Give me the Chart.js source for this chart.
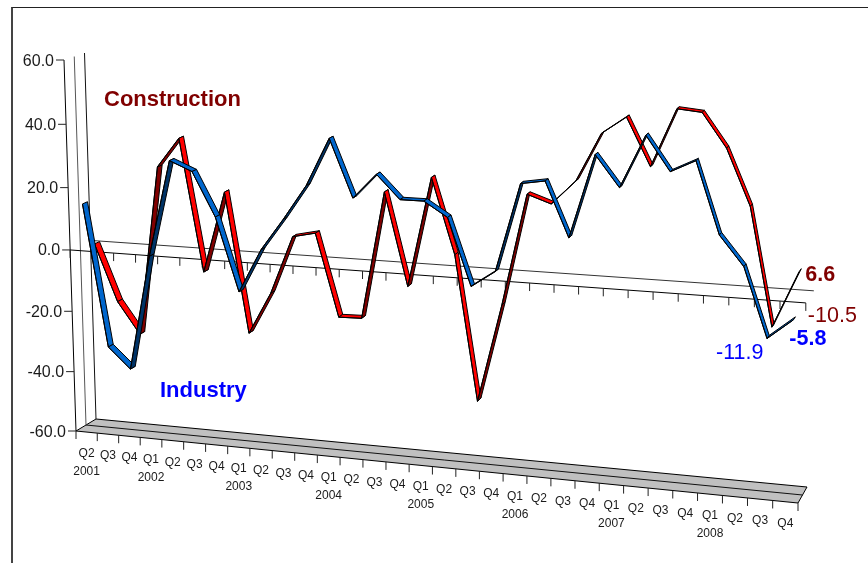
<!DOCTYPE html>
<html>
<head>
<meta charset="utf-8">
<title>Construction and Industry</title>
<script src="https://cdn.jsdelivr.net/npm/chart.js@4"></script>
<style>
    html, body { margin: 0; padding: 0; background: #fff; overflow: hidden; }
    #frame {
        position: absolute; left: 11px; top: 7px; width: 880px; height: 600px;
        border-left: 2px solid #444; border-top: 1px solid #222;
    }
    #chart { position: absolute; left: 0; top: 0; }
</style>
</head>
<body>
<div id="frame"></div>
<canvas id="chart" width="868" height="563"></canvas>

<script>
// Quarter labels, second line holds the year
const categories = [
    ['Q2', '2001'], ['Q3'], ['Q4'],
    ['Q1', '2002'], ['Q2'], ['Q3'], ['Q4'],
    ['Q1', '2003'], ['Q2'], ['Q3'], ['Q4'],
    ['Q1', '2004'], ['Q2'], ['Q3'], ['Q4'],
    ['Q1', '2005'], ['Q2'], ['Q3'], ['Q4'],
    ['Q1', '2006'], ['Q2'], ['Q3'], ['Q4'],
    ['Q1', '2007'], ['Q2'], ['Q3'], ['Q4'],
    ['Q1', '2008'], ['Q2'], ['Q3'], ['Q4']
];

const industry = [
    14.6, -31.4, -38.1, -0.7, 30.0, 27.0, 13.2, -10.0, 3.9, 14.0, 24.8,
    39.6, 21.8, 29.5, 22.2, 22.2, 17.7, -2.9, 2.2, 29.2, 30.4,
    13.9, 39.0, 29.7, 45.4, 35.2, 38.8, 17.6, 8.8, -11.9, -5.8
];

const construction = [
    0.1, -18.3, -28.5, 26.2, 35.6, -6.5, 19.5, -25.2, -11.7, 6.8, 8.4,
    -17.7, -17.5, 22.6, -6.3, 27.9, 4.6, -40.9, -9.9, 24.5, 22.0,
    29.4, 43.8, 49.0, 34.8, 52.1, 51.4, 41.4, 24.8, -10.5, 6.6
];

const yTicks = [60, 40, 20, 0, -20, -40, -60];

const FONT = '"Liberation Sans", Arial, sans-serif';
const INK = '#1a1a1a';

// Oblique view of the plot box: corners of the front plane and how far the
// back plane is shifted from it at each corner
const view = {
    frontTop: [[64, 60], [814, 93]],
    frontBottom: [[76, 431], [798, 503]],
    shiftTop: [[20.5, -7], [7, -8]],
    shiftBottom: [[20, -12], [9, -16]]
};

// Depth of each ribbon inside the box, same order as the datasets
const ribbonDepth = [0.27, 0.8];
const ribbonHalf = 0.125;

const ribbonColors = [
    { top: '#0066CC', under: '#003366' },
    { top: '#FF0000', under: '#800000' }
];

function lerp(a, b, t) {
    return a + (b - a) * t;
}

// u runs along the categories, w from the top of the value range to the bottom,
// both 0..1; depth 0 is the front plane and 1 the back wall
function project(u, w, depth) {
    const uu = 0.91 * u + 0.09 * u * u;
    const ww = 1.048 * w - 0.048 * w * w;
    const out = [0, 1].map(k => {
        const top = lerp(view.frontTop[0][k], view.frontTop[1][k], uu);
        const bottom = lerp(view.frontBottom[0][k], view.frontBottom[1][k], uu);
        const shiftTop = lerp(view.shiftTop[0][k], view.shiftTop[1][k], uu);
        const shiftBottom = lerp(view.shiftBottom[0][k], view.shiftBottom[1][k], uu);
        return lerp(top, bottom, ww) + lerp(shiftTop, shiftBottom, ww) * depth;
    });
    return { x: out[0], y: out[1] };
}

function projectPixel(chart, px, py, depth) {
    const area = chart.chartArea;
    return project((px - area.left) / area.width, (py - area.top) / area.height, depth);
}

function valueToW(chart, value) {
    const area = chart.chartArea;
    return (chart.scales.y.getPixelForValue(value) - area.top) / area.height;
}

function strokeLine(ctx, a, b, color, width) {
    ctx.strokeStyle = color;
    ctx.lineWidth = width;
    ctx.beginPath();
    ctx.moveTo(a.x, a.y);
    ctx.lineTo(b.x, b.y);
    ctx.stroke();
}

function drawText(ctx, text, x, y, font, color, align) {
    ctx.font = font;
    ctx.fillStyle = color;
    ctx.textAlign = align || 'left';
    ctx.textBaseline = 'alphabetic';
    ctx.fillText(text, x, y);
}

const obliquePlugin = {
    id: 'oblique',

    // Move the points the scales placed on to the sloping front edge of each ribbon
    afterDatasetsUpdate(chart) {
        chart.data.datasets.forEach((ds, i) => {
            const meta = chart.getDatasetMeta(i);
            meta.backEdge = meta.data.map(el => {
                const back = projectPixel(chart, el.x, el.y, ribbonDepth[i] + ribbonHalf);
                const front = projectPixel(chart, el.x, el.y, ribbonDepth[i] - ribbonHalf);
                el.x = front.x;
                el.y = front.y;
                return back;
            });
        });
    },

    // Walls, floor, zero lines and axis labels
    beforeDatasetsDraw(chart) {
        const ctx = chart.ctx;
        const count = categories.length;
        const zero = valueToW(chart, 0);

        ctx.save();
        ctx.lineCap = 'butt';

        // floor slab
        ctx.fillStyle = '#C0C0C0';
        ctx.beginPath();
        [project(0, 1, 0), project(1, 1, 0), project(1, 1, 1), project(0, 1, 1)].forEach((p, i) => {
            if (i === 0) ctx.moveTo(p.x, p.y);
            else ctx.lineTo(p.x, p.y);
        });
        ctx.closePath();
        ctx.fill();
        strokeLine(ctx, project(0, 1, 0), project(1, 1, 0), '#000', 1.2);
        strokeLine(ctx, project(0, 1, 0.5), project(1, 1, 0.5), '#111', 1);
        strokeLine(ctx, project(0, 1, 1), project(1, 1, 1), '#000', 1.2);
        strokeLine(ctx, project(0, 1, 0), project(0, 1, 1), '#000', 1);
        strokeLine(ctx, project(1, 1, 0), project(1, 1, 1), '#000', 1);

        // left wall edges
        strokeLine(ctx, project(0, 0, 0), project(0, 1, 0), '#000', 1);
        strokeLine(ctx, project(0, 0, 0.5), project(0, 1, 0.5), '#555', 1);
        strokeLine(ctx, project(0, 0, 1), project(0, 1, 1), '#111', 1);

        // zero lines, back wall then front plane
        strokeLine(ctx, project(0, zero, 1), project(1, zero, 1), '#333', 1);
        strokeLine(ctx, project(0, zero, 0), project(1, zero, 0), '#000', 1);

        // value axis ticks and labels
        yTicks.forEach(v => {
            const p = project(0, valueToW(chart, v), 0);
            strokeLine(ctx, { x: p.x - 8, y: p.y }, p, '#222', 1);
            drawText(ctx, v.toFixed(1), p.x - 10, p.y + 5.5, '16px ' + FONT, INK, 'right');
        });

        // category ticks on the zero line and along the floor edge
        for (let k = 0; k <= count; k++) {
            const onZero = project(k / count, zero, 0);
            const onFloor = project(k / count, 1, 0);
            strokeLine(ctx, onZero, { x: onZero.x, y: onZero.y + 8 }, '#222', 1);
            strokeLine(ctx, onFloor, { x: onFloor.x, y: onFloor.y + 8 }, '#222', 1);
        }

        // quarter and year labels
        categories.forEach((lines, i) => {
            const p = project((i + 0.5) / count, 1, 0);
            lines.forEach((text, n) => {
                drawText(ctx, text, p.x, p.y + 25 + n * 18, '12px ' + FONT, INK, 'center');
            });
        });
        ctx.restore();
    },

    // Ribbon faces under the front edge Chart.js strokes for the dataset
    beforeDatasetDraw(chart, args) {
        const ctx = chart.ctx;
        const meta = args.meta;
        const front = meta.data;
        const back = meta.backEdge;
        const colors = ribbonColors[args.index];

        ctx.save();
        ctx.lineJoin = 'round';
        ctx.lineWidth = 1;
        ctx.strokeStyle = '#000';
        for (let i = 0; i < front.length - 1; i++) {
            const a = front[i], b = front[i + 1], c = back[i + 1], d = back[i];
            // which side of the ribbon faces the viewer
            const cross = (b.x - a.x) * (d.y - a.y) - (b.y - a.y) * (d.x - a.x);
            ctx.fillStyle = cross < 0 ? colors.top : colors.under;
            ctx.beginPath();
            ctx.moveTo(a.x, a.y);
            ctx.lineTo(b.x, b.y);
            ctx.lineTo(c.x, c.y);
            ctx.lineTo(d.x, d.y);
            ctx.closePath();
            ctx.fill();
            ctx.stroke();
        }
        ctx.restore();
    },

    // Series names and the values at the end of each line
    afterDatasetsDraw(chart) {
        const ctx = chart.ctx;
        const last = categories.length - 1;
        const ind = chart.getDatasetMeta(0).data;
        const con = chart.getDatasetMeta(1).data;
        const maroon = '#800000';
        const blue = '#0000FF';

        ctx.save();
        drawText(ctx, 'Construction', 104, 106, 'bold 22px ' + FONT, maroon);
        drawText(ctx, 'Industry', 160, 397, 'bold 22px ' + FONT, blue);

        drawText(ctx, construction[last].toFixed(1), con[last].x + 6, con[last].y + 9, 'bold 21.5px ' + FONT, maroon);
        drawText(ctx, construction[last - 1].toFixed(1), con[last - 1].x + 36, con[last - 1].y - 5, '21.5px ' + FONT, maroon);
        drawText(ctx, industry[last].toFixed(1), ind[last].x - 4, ind[last].y + 25, 'bold 21.5px ' + FONT, blue);
        drawText(ctx, industry[last - 1].toFixed(1), ind[last - 1].x - 51, ind[last - 1].y + 20, '21.5px ' + FONT, blue);
        ctx.restore();
    }
};

new Chart(document.getElementById('chart'), {
    type: 'line',
    data: {
        labels: categories,
        datasets: [
            { label: 'Industry', data: industry, borderColor: '#000', borderWidth: 1, tension: 0, pointRadius: 0 },
            { label: 'Construction', data: construction, borderColor: '#000', borderWidth: 1, tension: 0, pointRadius: 0 }
        ]
    },
    options: {
        responsive: false,
        animation: false,
        clip: false,
        layout: { padding: { left: 76, right: 70, top: 60, bottom: 132 } },
        plugins: {
            legend: { display: false },
            title: { display: false },
            tooltip: { enabled: false }
        },
        scales: {
            x: { type: 'category', offset: true, display: false },
            y: { type: 'linear', min: -60, max: 60, display: false }
        }
    },
    plugins: [obliquePlugin]
});
</script>
</body>
</html>
